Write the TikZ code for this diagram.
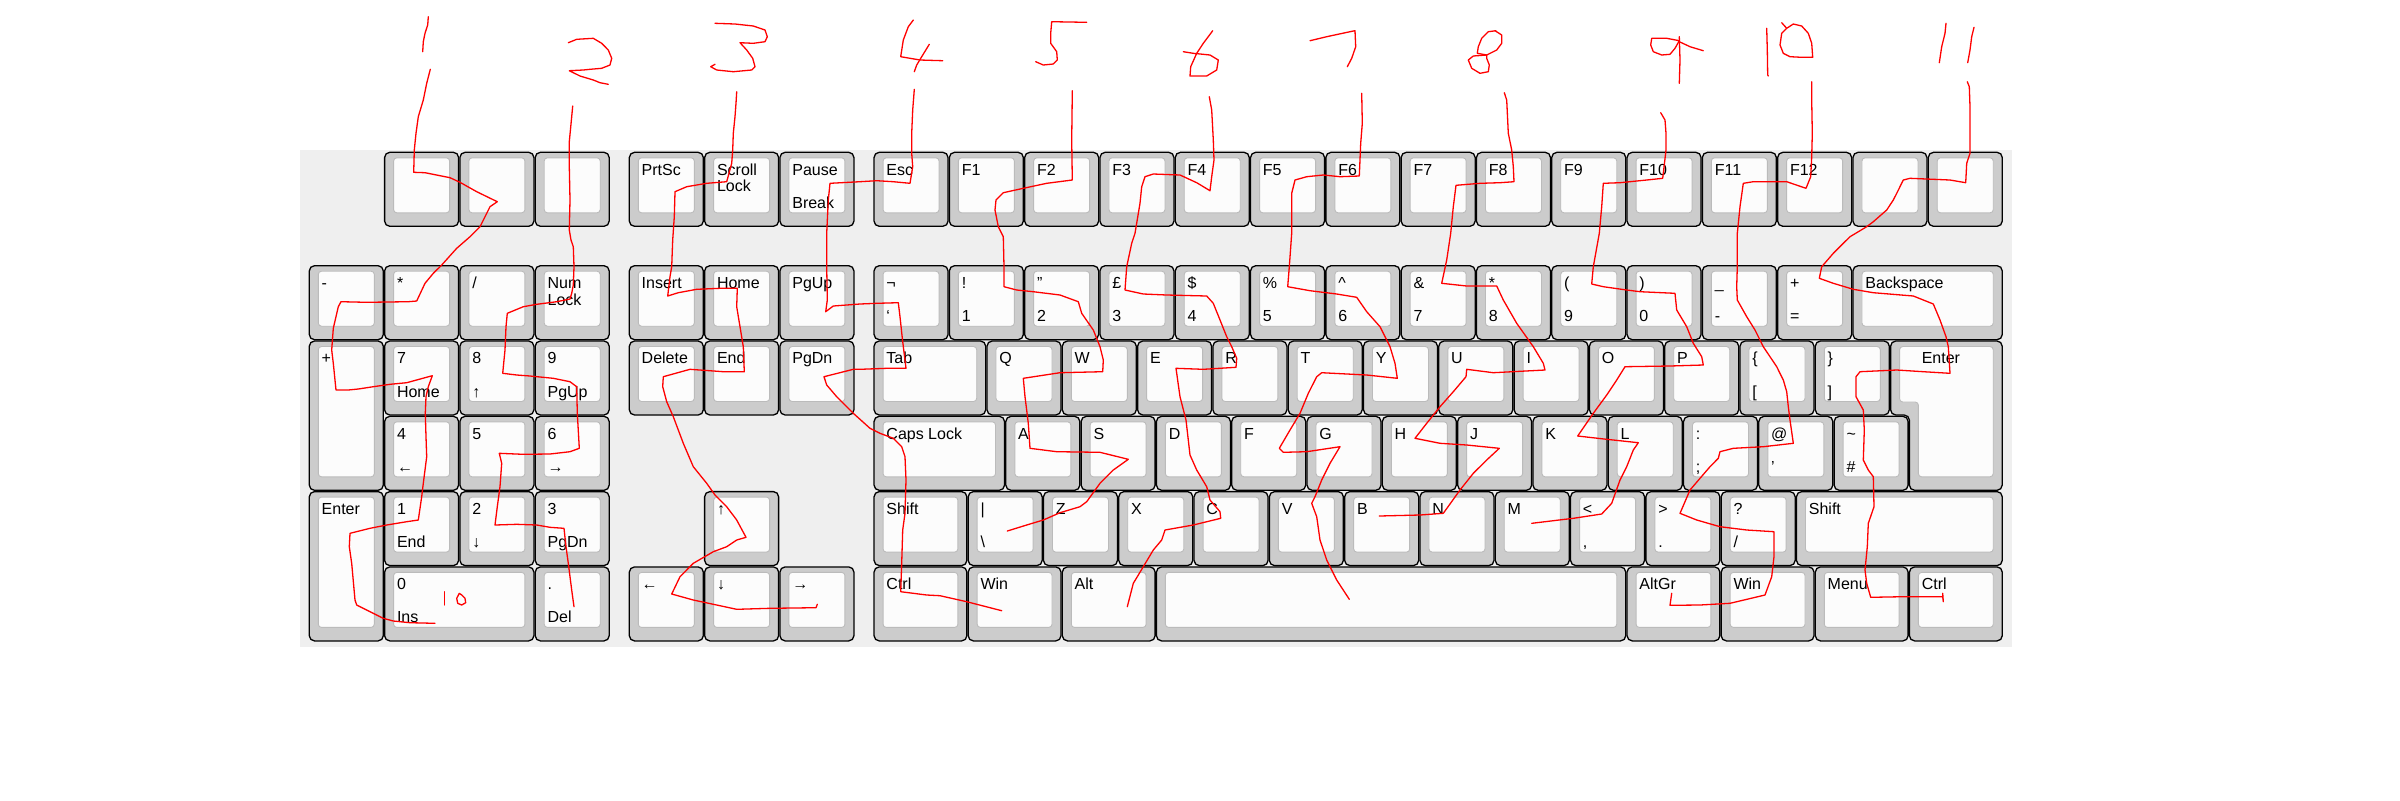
\documentclass[tikz,border=0pt]{standalone}
\usepackage{fontspec}
\setmainfont{Liberation Sans}
\definecolor{keyg}{HTML}{CCCCCC}
\definecolor{keyw}{HTML}{FCFCFC}
\definecolor{innerb}{HTML}{BBBBBB}
\definecolor{kbbg}{HTML}{EFEFEF}
\newcommand\labfont{\fontsize{8}{9.6}\selectfont}
\def\RowA{152.3}\def\RowB{265.7}\def\RowC{341}\def\RowD{416.3}\def\RowE{491.6}\def\RowF{566.9}
\tikzset{
 keyout/.style={draw=black, fill=keyg, line width=0.65pt, rounded corners=2.6pt},
 keyin/.style={draw=innerb, fill=keyw, line width=0.45pt, rounded corners=1.6pt},
 lab/.style={anchor=base west, inner sep=0pt, font=\labfont, text=black},
 ink/.style={draw=red, line width=0.65pt, line join=round, line cap=round},
}
\newcommand\kk[7]{%
  \pgfmathsetmacro\kxa{309.3+(#2)*75.3}%
  \pgfmathsetmacro\kxb{\kxa+(#4)*75.3-1.3}%
  \pgfmathsetmacro\kyb{#3+(#5)*75.3-1.3}%
  \draw[keyout] (\kxa,#3) rectangle (\kxb,\kyb);%
  \draw[keyin] ({\kxa+9},{#3+5.5}) rectangle ({\kxb-9},{\kyb-13.5});%
  \node[lab] (#1-t) at ({\kxa+12},{#3+22.7}) {#6};%
  \node[lab] (#1-b) at ({\kxa+12},{#3+56}) {#7};%
}
\begin{document}
\begin{tikzpicture}[x=0.5pt,y=-0.5pt]
\useasboundingbox (0,0) rectangle (2400,800);
\fill[white] (0,0) rectangle (2400,800);
\fill[kbbg] (300,150) rectangle (2012,647);
% ---------- numpad ----------
\kk{npa1}{1}{\RowA}{1}{1}{}{}
\kk{npa2}{2}{\RowA}{1}{1}{}{}
\kk{npa3}{3}{\RowA}{1}{1}{}{}
\kk{npminus}{0}{\RowB}{1}{1}{-}{}
\kk{npstar}{1}{\RowB}{1}{1}{*}{}
\kk{npslash}{2}{\RowB}{1}{1}{/}{}
\kk{npnum}{3}{\RowB}{1}{1}{Num}{}
\node[lab] (npnumlock) at (547.2,305.1) {Lock};
\kk{npplus}{0}{\RowC}{1}{2}{+}{}
\kk{np7}{1}{\RowC}{1}{1}{7}{Home}
\kk{np8}{2}{\RowC}{1}{1}{8}{↑}
\kk{np9}{3}{\RowC}{1}{1}{9}{PgUp}
\kk{np4}{1}{\RowD}{1}{1}{4}{←}
\kk{np5}{2}{\RowD}{1}{1}{5}{}
\kk{np6}{3}{\RowD}{1}{1}{6}{→}
\kk{npenter}{0}{\RowE}{1}{2}{Enter}{}
\kk{np1}{1}{\RowE}{1}{1}{1}{End}
\kk{np2}{2}{\RowE}{1}{1}{2}{↓}
\kk{np3}{3}{\RowE}{1}{1}{3}{PgDn}
\kk{np0}{1}{\RowF}{2}{1}{0}{Ins}
\kk{npdot}{3}{\RowF}{1}{1}{.}{Del}
% ---------- navigation ----------
\kk{prtsc}{4.25}{\RowA}{1}{1}{PrtSc}{}
\kk{scroll}{5.25}{\RowA}{1}{1}{Scroll}{}
\node[lab] (scrolllock) at (716.6,191.7) {Lock};
\kk{pause}{6.25}{\RowA}{1}{1}{Pause}{Break}
\kk{ins}{4.25}{\RowB}{1}{1}{Insert}{}
\kk{home}{5.25}{\RowB}{1}{1}{Home}{}
\kk{pgup}{6.25}{\RowB}{1}{1}{PgUp}{}
\kk{del}{4.25}{\RowC}{1}{1}{Delete}{}
\kk{end}{5.25}{\RowC}{1}{1}{End}{}
\kk{pgdn}{6.25}{\RowC}{1}{1}{PgDn}{}
\kk{up}{5.25}{\RowE}{1}{1}{↑}{}
\kk{left}{4.25}{\RowF}{1}{1}{←}{}
\kk{down}{5.25}{\RowF}{1}{1}{↓}{}
\kk{right}{6.25}{\RowF}{1}{1}{→}{}
% ---------- main row 0 ----------
\kk{esc}{7.5}{\RowA}{1}{1}{Esc}{}
\kk{f1}{8.5}{\RowA}{1}{1}{F1}{}
\kk{f2}{9.5}{\RowA}{1}{1}{F2}{}
\kk{f3}{10.5}{\RowA}{1}{1}{F3}{}
\kk{f4}{11.5}{\RowA}{1}{1}{F4}{}
\kk{f5}{12.5}{\RowA}{1}{1}{F5}{}
\kk{f6}{13.5}{\RowA}{1}{1}{F6}{}
\kk{f7}{14.5}{\RowA}{1}{1}{F7}{}
\kk{f8}{15.5}{\RowA}{1}{1}{F8}{}
\kk{f9}{16.5}{\RowA}{1}{1}{F9}{}
\kk{f10}{17.5}{\RowA}{1}{1}{F10}{}
\kk{f11}{18.5}{\RowA}{1}{1}{F11}{}
\kk{f12}{19.5}{\RowA}{1}{1}{F12}{}
\kk{fb1}{20.5}{\RowA}{1}{1}{}{}
\kk{fb2}{21.5}{\RowA}{1}{1}{}{}
% ---------- row 1 ----------
\kk{grave}{7.5}{\RowB}{1}{1}{¬}{\symbol{96}}
\kk{k1}{8.5}{\RowB}{1}{1}{!}{1}
\kk{k2}{9.5}{\RowB}{1}{1}{"}{2}
\kk{k3}{10.5}{\RowB}{1}{1}{£}{3}
\kk{k4}{11.5}{\RowB}{1}{1}{\$}{4}
\kk{k5}{12.5}{\RowB}{1}{1}{\%}{5}
\kk{k6}{13.5}{\RowB}{1}{1}{\textasciicircum}{6}
\kk{k7}{14.5}{\RowB}{1}{1}{\&}{7}
\kk{k8}{15.5}{\RowB}{1}{1}{*}{8}
\kk{k9}{16.5}{\RowB}{1}{1}{(}{9}
\kk{k0}{17.5}{\RowB}{1}{1}{)}{0}
\kk{kminus}{18.5}{\RowB}{1}{1}{\_}{-}
\kk{kequal}{19.5}{\RowB}{1}{1}{+}{=}
\kk{bksp}{20.5}{\RowB}{2}{1}{Backspace}{}
% ---------- row 2 ----------
\kk{tab}{7.5}{\RowC}{1.5}{1}{Tab}{}
\kk{q}{9}{\RowC}{1}{1}{Q}{}
\kk{w}{10}{\RowC}{1}{1}{W}{}
\kk{e}{11}{\RowC}{1}{1}{E}{}
\kk{r}{12}{\RowC}{1}{1}{R}{}
\kk{t}{13}{\RowC}{1}{1}{T}{}
\kk{y}{14}{\RowC}{1}{1}{Y}{}
\kk{u}{15}{\RowC}{1}{1}{U}{}
\kk{i}{16}{\RowC}{1}{1}{I}{}
\kk{o}{17}{\RowC}{1}{1}{O}{}
\kk{p}{18}{\RowC}{1}{1}{P}{}
\kk{lbr}{19}{\RowC}{1}{1}{\{}{[}
\kk{rbr}{20}{\RowC}{1}{1}{\}}{]}
\draw[keyout] (1890.6,341) -- (2002.2,341) -- (2002.2,490.3) -- (1909.4,490.3) -- (1909.4,415) -- (1890.6,415) -- cycle;
\draw[keyin] (1899.6,346.5) -- (1993.2,346.5) -- (1993.2,476.8) -- (1918.4,476.8) -- (1918.4,402) -- (1899.6,402) -- cycle;
\node[lab] (enter-t) at (1921.4,363.7) {Enter};
% ---------- row 3 ----------
\kk{caps}{7.5}{\RowD}{1.75}{1}{Caps Lock}{}
\kk{a}{9.25}{\RowD}{1}{1}{A}{}
\kk{s}{10.25}{\RowD}{1}{1}{S}{}
\kk{d}{11.25}{\RowD}{1}{1}{D}{}
\kk{f}{12.25}{\RowD}{1}{1}{F}{}
\kk{g}{13.25}{\RowD}{1}{1}{G}{}
\kk{h}{14.25}{\RowD}{1}{1}{H}{}
\kk{j}{15.25}{\RowD}{1}{1}{J}{}
\kk{k}{16.25}{\RowD}{1}{1}{K}{}
\kk{l}{17.25}{\RowD}{1}{1}{L}{}
\kk{semi}{18.25}{\RowD}{1}{1}{:}{;}
\kk{quote}{19.25}{\RowD}{1}{1}{@}{\symbol{39}}
\kk{hash}{20.25}{\RowD}{1}{1}{\textasciitilde}{\#}
% ---------- row 4 ----------
\kk{lshift}{7.5}{\RowE}{1.25}{1}{Shift}{}
\kk{bslash}{8.75}{\RowE}{1}{1}{|}{\textbackslash}
\kk{z}{9.75}{\RowE}{1}{1}{Z}{}
\kk{x}{10.75}{\RowE}{1}{1}{X}{}
\kk{c}{11.75}{\RowE}{1}{1}{C}{}
\kk{v}{12.75}{\RowE}{1}{1}{V}{}
\kk{b}{13.75}{\RowE}{1}{1}{B}{}
\kk{n}{14.75}{\RowE}{1}{1}{N}{}
\kk{m}{15.75}{\RowE}{1}{1}{M}{}
\kk{comma}{16.75}{\RowE}{1}{1}{<}{,}
\kk{period}{17.75}{\RowE}{1}{1}{>}{.}
\kk{slash}{18.75}{\RowE}{1}{1}{?}{/}
\kk{rshift}{19.75}{\RowE}{2.75}{1}{Shift}{}
% ---------- row 5 ----------
\kk{lctrl}{7.5}{\RowF}{1.25}{1}{Ctrl}{}
\kk{lwin}{8.75}{\RowF}{1.25}{1}{Win}{}
\kk{alt}{10}{\RowF}{1.25}{1}{Alt}{}
\kk{space}{11.25}{\RowF}{6.25}{1}{}{}
\kk{altgr}{17.5}{\RowF}{1.25}{1}{AltGr}{}
\kk{rwin}{18.75}{\RowF}{1.25}{1}{Win}{}
\kk{menu}{20}{\RowF}{1.25}{1}{Menu}{}
\kk{rctrl}{21.25}{\RowF}{1.25}{1}{Ctrl}{}
% ---------- red ink ----------
% digit 1 and path 1
\draw[ink] plot coordinates {(428.3,16.7) (427.7,25) (425,33.3) (423.3,41.7) (422.7,51.7)};
\draw[ink] plot coordinates {(430.3,69.3) (426.7,83.3) (423.3,100) (418.3,116.7) (416,133.3) (414.3,150) (413.7,172.3) (425,172.7) (450,177.7) (460,182.3) (476.7,191.7) (497.3,201.7) (490,206.7) (480,226.7) (470,236.7) (456.7,248.3) (441.7,265) (433.3,273.3) (425,283.3) (416.7,301) (408.3,301.7) (366.7,302.3) (341,301.7) (338.3,306.7) (333.3,328.3) (331.7,350) (333.3,363.3) (336,390) (348.3,390) (358.3,389) (373.3,386.7) (390,384.3) (406.7,382.7) (432.3,375.7) (428.3,386.7) (426,396.7) (425.3,413.3) (426,436.7) (426.7,456.7) (425,470) (423.3,483.3) (421.7,496.7) (418.3,520) (406.7,521.7) (386.7,525) (370,528.3) (350,533.3) (349.3,546.7) (351.7,563.3) (355,600) (356.7,605) (366.7,610) (383.3,618.3) (393.3,621) (410,622.7) (435,623.3)};
% "10" note
\draw[ink] (444.3,591.7) -- (444.3,605);
\draw[ink] plot coordinates {(459.3,593.3) (456.7,598.3) (457.7,603.3) (461.7,605) (465.7,602.7) (465,598.3) (461.7,595) (459.3,593.3)};
% digit 2 and path 2
\draw[ink] plot coordinates {(568.3,42.7) (576.7,39.3) (593.3,38.3) (601.7,43.3) (608.3,50) (611.7,58.3) (610,65) (601.7,68.3) (590,69.3) (583.3,70) (569.3,70.7) (580,76) (593.3,80) (600,82.7) (608.3,84.3)};
\draw[ink] plot coordinates {(572.7,106) (571.7,116.7) (569.3,141.7) (569.3,166.7) (570,200) (569.3,230) (571,240) (573.3,246.7) (574,266.7) (573.3,285) (571.7,293.3) (570,299) (556.7,301.7) (536.7,304.3) (523.3,306.7) (507.3,313.3) (506,326.7) (505,350) (502.7,373.3) (516.7,375) (530,376) (553.3,378.3) (570,381.7) (576.7,386.7) (577.3,413.3) (579.3,448.3) (570,451.7) (550,454) (523.3,454.3) (499.3,453.3) (501.7,463.3) (500,486.7) (497.3,506.7) (495,525) (516.7,524.3) (536.7,525) (550,527.3) (564,528.3) (566,546.7) (568.3,563.3) (571.7,590) (574,606.7)};
% digit 3 and path 3
\draw[ink] plot coordinates {(715,23.3) (735,24) (753.3,26) (765,30) (767.3,36.7) (765,41.7) (753.3,43.3) (740,42.7) (746.7,50) (752.7,58.3) (755,66.7) (751.7,70) (733.3,71.7) (716.7,70) (710.7,66.7) (715,64.3)};
\draw[ink] plot coordinates {(736.7,91.7) (736,103.3) (735,116.7) (733.3,133.3) (732.7,150) (731.7,163.3) (726.7,181.7) (706.7,183.3) (686.7,186.7) (675,191.7) (674.3,216.7) (672.7,240) (671.7,266.7) (670,276.7) (667.7,296) (678.3,292.7) (696.7,289.3) (720,288.3) (737.3,288.3) (736.7,306.7) (740,326.7) (743.3,346.7) (744.3,371.7) (723.3,371.7) (690,369.3) (663.3,376.7) (662.7,386.7) (666.7,401.7) (673.3,416.7) (683.3,443.3) (693.3,466.7) (706.7,483.3) (715,495) (726.7,506.7) (736.7,520) (746,537.3) (736.7,540) (726.7,546.7) (713.3,551.7) (693.3,563.3) (680,576.7) (671.7,594) (693.3,600) (716.7,605) (736.7,609.3) (770,608.3) (816,607.7) (817.3,604.3)};
% digit 4 and path 4
\draw[ink] plot coordinates {(913.3,20) (908.3,26.7) (903.3,40) (900.7,56.7) (920,60) (942.7,60.7)};
\draw[ink] plot coordinates {(929.3,44.3) (921.7,56.7) (916.7,65) (914.3,71.7)};
\draw[ink] plot coordinates {(914.3,89.3) (912.7,110) (911.7,133.3) (911.7,153.3) (912.7,166.7) (910,183.3) (893.3,181.7) (876.7,180.7) (860,181.7) (830,183.3) (828.3,200) (826.7,233.3) (826.7,266.7) (827.3,300) (825.7,311.7) (833.3,306) (860,304) (876.7,303.3) (898.3,302.7) (900,316.7) (902.5,340) (906,368.3) (886.7,368.3) (860,369.3) (853.3,369.3) (824,376.7) (826.7,385) (836.7,396.7) (853.3,413.3) (870,428.3) (880,433.3) (893.3,438.3) (901.7,446.7) (905,456.7) (906,480) (905,513.3) (902.7,530) (901.7,563.3) (900.7,591.7) (926.7,595) (940,595.7) (966.7,601.7) (1001.7,610.7)};
% digit 5 and path 5
\draw[ink] plot coordinates {(1086.7,22.3) (1051.7,21.7) (1050.7,33.3) (1050.7,43.3) (1056.7,51.7) (1057.3,60) (1053.3,64) (1043.3,65) (1035.7,61.7)};
\draw[ink] plot coordinates {(1072.3,90.7) (1072,116.7) (1071.7,140) (1072.3,180) (1046.7,183.3) (1023.3,188.3) (1003.3,192.7) (996,200) (995,210) (998.3,226.7) (1003.3,236.7) (1004,266.7) (1004,286.7) (1016.7,290) (1033.3,291.7) (1060,295) (1078.3,301.7) (1081.7,313.3) (1093.3,330) (1100,346.7) (1103.3,360) (1102.7,371.7) (1060,372.7) (1023.3,378.3) (1025,396.7) (1028.3,423.3) (1030,448.3) (1056.7,451.7) (1100,452.3) (1128.3,459.3) (1113.3,470) (1100,483.3) (1086.7,501.7) (1080,506.7) (1060,512.7) (1043.3,520) (1026.7,525) (1007.3,531)};
% digit 6 and path 6
\draw[ink] plot coordinates {(1212.7,30.7) (1203.3,43.3) (1196.7,53.3) (1190.7,66.7) (1190,76) (1206.7,76) (1216.7,70) (1218.3,60) (1210,55) (1193.3,53.3) (1183.3,51.7)};
\draw[ink] plot coordinates {(1209.3,96.7) (1211.7,110) (1213.3,140) (1214,160) (1211.7,176.7) (1210,190.7) (1196.7,182.7) (1180,175) (1153.3,174) (1145,176.7) (1141.7,186.7) (1140,203.3) (1135,233.3) (1131.7,243.3) (1126.7,266.7) (1125,290) (1143.3,294) (1166.7,295) (1206.7,296) (1213.3,303.3) (1220,320) (1226.7,336.7) (1231.7,346.7) (1236.7,358.3) (1236,367.3) (1203.3,369.3) (1176,368.3) (1180,396.7) (1186,420) (1190,455) (1196.7,470) (1206.7,486.7) (1210,500) (1220,511.7) (1220.7,518.3) (1193.3,525) (1165,530) (1161.7,540) (1153.3,550) (1143.3,566.7) (1133.3,583.3) (1127.3,606.7)};
% digit 7 and path 7
\draw[ink] plot coordinates {(1310,40.7) (1326.7,36.7) (1350,31.7) (1355,30.7) (1355.7,46.7) (1351.7,58.3) (1347.3,66.7)};
\draw[ink] plot coordinates {(1361.7,93.3) (1362.3,123.3) (1360.7,143.3) (1359.3,176) (1340,176.7) (1323.3,175) (1306.7,176.7) (1295,180) (1291.7,193.3) (1291.7,233.3) (1289.3,266.7) (1287.7,286.7) (1310,290.7) (1336.7,294) (1356.7,297.3) (1366.7,311.7) (1380,326.7) (1390,346.7) (1395,363.3) (1397.3,378.3) (1366.7,375) (1333.3,373.3) (1321.7,372.7) (1316.7,376.7) (1308.3,393.3) (1300,413.3) (1290,430) (1279.3,448.3) (1283.3,452.3) (1306.7,451.7) (1340,446.7) (1330,463.3) (1321.7,480) (1315,496.7) (1311.7,503.3) (1316.7,516.7) (1320,540) (1326.7,560) (1336.7,580) (1349.3,599.3)};
% digit 8 and path 8
\draw[ink] plot coordinates {(1496,30.7) (1488.3,31.7) (1481.7,38.3) (1478.3,46.7) (1477.3,53.3) (1486.7,55) (1496.7,50) (1501.7,43.3) (1501.7,35) (1495,30.7)};
\draw[ink] plot coordinates {(1486.7,55) (1473.3,56) (1468.3,60) (1471.7,68.3) (1480,73.3) (1488.3,71.7) (1489.3,65) (1486.7,58.3) (1486.7,55)};
\draw[ink] plot coordinates {(1504.3,92.7) (1506.7,100) (1508.3,133.3) (1511.7,150) (1513.3,166.7) (1514,181.7) (1500,182.7) (1480,183.3) (1456,185.3) (1453.3,206.7) (1450.7,233.3) (1446.7,260) (1441.7,283.3) (1466.7,286) (1496.7,286) (1503.3,300) (1516.7,323.3) (1533.3,346.7) (1543.3,363.3) (1545,370) (1493.3,372.7) (1466.7,369.3) (1466,376.7) (1453.3,391.7) (1440,406.7) (1426.7,423.3) (1415,438.3) (1440,443.3) (1466.7,445) (1499.3,448.3) (1486.7,460) (1473.3,473.3) (1460,490) (1443.3,513.3) (1420,515) (1379.3,516)};
% digit 9 and path 9
\draw[ink] plot coordinates {(1679.3,40.7) (1666.7,38.3) (1651.7,38.3) (1650.7,45) (1653.3,51.7) (1661.7,55) (1670,54.3) (1675,48.3) (1679.3,40.7)};
\draw[ink] plot coordinates {(1679.3,36.7) (1680,60) (1679.3,83.3)};
\draw[ink] plot coordinates {(1679.3,41.7) (1690,46.7) (1703.3,50.7)};
\draw[ink] plot coordinates {(1660.7,112.7) (1665,120) (1666,133.3) (1666,150) (1662.7,178.3) (1646.7,180) (1620,182.7) (1603.3,183.3) (1601.7,206.7) (1599.3,233.3) (1593.3,266.7) (1591.7,284) (1603.3,286.7) (1626.7,290) (1640,291.7) (1675,293.3) (1676.7,310) (1686.7,326.7) (1693.3,343.3) (1701.7,356.7) (1703.3,365) (1670,366) (1625,366.7) (1616.7,380) (1606.7,395) (1593.3,413.3) (1577.7,436) (1606.7,439.3) (1638.3,442.7) (1633.3,450) (1626.7,466.7) (1620,480) (1611.7,503.3) (1601.7,514) (1573.3,518.3) (1531.7,523.3)};
% digits 10 and path 10
\draw[ink] plot coordinates {(1766.7,28.3) (1767.3,50) (1767.7,75) (1768.3,76)};
\draw[ink] plot coordinates {(1786.7,28.3) (1793.3,24) (1801.7,26) (1808.3,33.3) (1811.7,43.3) (1812.7,57.3) (1801.7,57.3) (1790,56.7) (1783.3,53.3) (1780,45) (1781.7,33.3) (1786.7,28.3) (1781.7,22.7)};
\draw[ink] plot coordinates {(1811.7,81.7) (1811.7,100) (1812.3,133.3) (1811.7,156.7) (1810.7,176.7) (1806,188.3) (1786.7,181.7) (1753.3,181.7) (1743.3,183.3) (1740,206.7) (1737.3,233.3) (1737.3,266.7) (1736.7,286.7) (1737.3,300) (1746.7,316.7) (1755,330) (1763.3,346.7) (1776.7,366.7) (1783.3,380) (1786.7,391.7) (1788.3,406.7) (1790,420) (1793.3,443.3) (1763.3,446.7) (1733.3,448.3) (1720,451.7) (1718.3,458.3) (1710,466.7) (1700,478.3) (1690,490) (1680,513.3) (1696.7,520) (1720,526.7) (1746.7,530) (1774,531.7) (1774,556.7) (1771.7,576.7) (1765,595) (1730,603.3) (1700,605) (1670,605.3) (1671.7,593.3)};
% digits 11 and path 11
\draw[ink] plot coordinates {(1946,23.3) (1945,33.3) (1941.7,46.7) (1939.3,62.7)};
\draw[ink] plot coordinates {(1974,27.3) (1971.7,36.7) (1970,50) (1967.7,62.7)};
\draw[ink] plot coordinates {(1967.3,81.7) (1969.3,86.7) (1970,106.7) (1970,153.3) (1966.7,163.3) (1965.7,182.7) (1950,180) (1910,178.3) (1903.3,180) (1896.7,193.3) (1893.3,200) (1886.7,210) (1873.3,221.7) (1866.7,226.7) (1850,236.7) (1843.3,243.3) (1833.3,253.3) (1821.7,266.7) (1819.3,278.3) (1833.3,283.3) (1853.3,289.3) (1873.3,292.7) (1913.3,296) (1933.3,304) (1940,320) (1946,336.7) (1948.3,346.7) (1950,373.3) (1923.3,371.7) (1896.7,370) (1860,371.7) (1856,376.7) (1856,396.7) (1863.3,410) (1864.3,430) (1863.3,460) (1868.3,470) (1873.3,476.7) (1874,506.7) (1868.3,523.3) (1867.3,546.7) (1865,570) (1866.7,583.3) (1870.7,597.3) (1903.3,596.7) (1942.7,596.7) (1943.3,601.7) (1942.7,593.3)};
\end{tikzpicture}
\end{document}
